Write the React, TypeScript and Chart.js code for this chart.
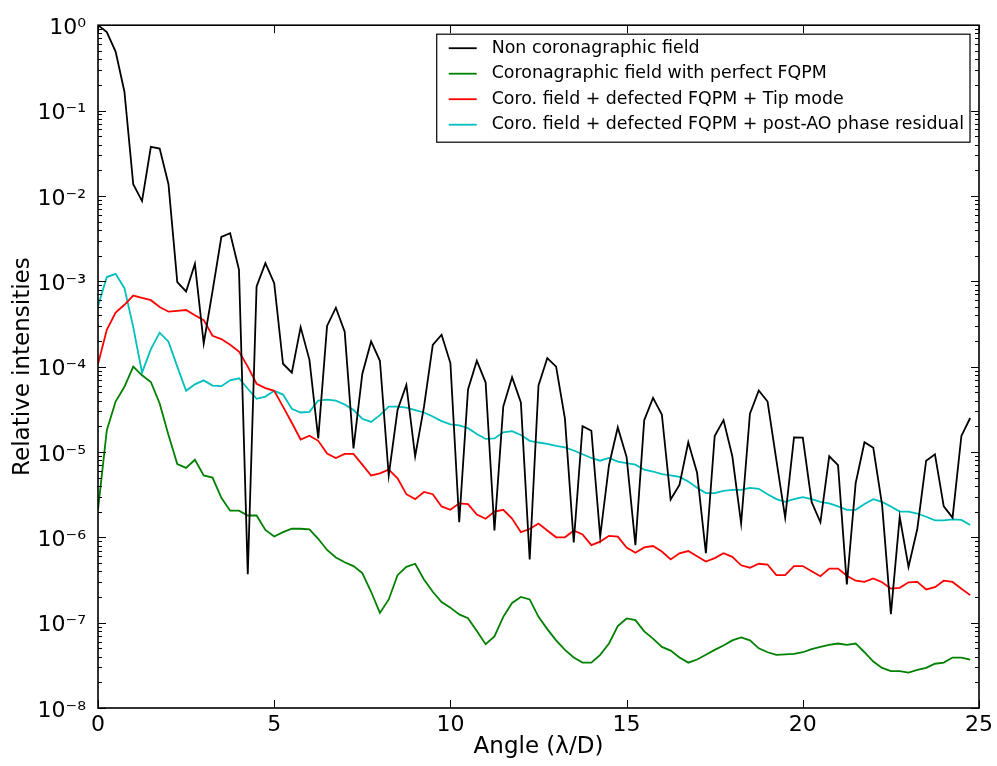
import React, { useEffect, useRef } from 'react';
import { Chart, registerables } from 'chart.js';

Chart.register(...registerables);

const FONT = 'DejaVu Sans';

// Angle (lambda/D) sampling grid
const angles = [
  0, 0.25, 0.5, 0.75, 1, 1.25, 1.5, 1.75, 2, 2.25, 2.5, 2.75, 3, 3.25, 3.5, 3.75, 4, 4.25, 4.5, 4.75,
  5, 5.25, 5.5, 5.75, 6, 6.25, 6.5, 6.75, 7, 7.25, 7.5, 7.75, 8, 8.25, 8.5, 8.75, 9, 9.25, 9.5, 9.75,
  10, 10.25, 10.5, 10.75, 11, 11.25, 11.5, 11.75, 12, 12.25, 12.5, 12.75, 13, 13.25, 13.5, 13.75, 14, 14.25, 14.5, 14.75,
  15, 15.25, 15.5, 15.75, 16, 16.25, 16.5, 16.75, 17, 17.25, 17.5, 17.75, 18, 18.25, 18.5, 18.75, 19, 19.25, 19.5, 19.75,
  20, 20.25, 20.5, 20.75, 21, 21.25, 21.5, 21.75, 22, 22.25, 22.5, 22.75, 23, 23.25, 23.5, 23.75, 24, 24.25, 24.5, 24.75,
];

const nonCoronagraphic = [
  1.0, 0.83, 0.49, 0.166, 0.0137, 0.0087, 0.0375, 0.0358, 0.0137, 9.8e-4,
  7.6e-4, 1.6e-3, 1.87e-4, 7.65e-4, 3.3e-3, 3.65e-3, 1.37e-3, 3.7e-7, 8.7e-4, 1.63e-3,
  9.5e-4, 1.08e-4, 8.5e-5, 2.9e-4, 1.2e-4, 1.44e-5, 3e-4, 4.9e-4, 2.57e-4, 1.1e-5,
  8.2e-5, 1.97e-4, 1.17e-4, 5.3e-6, 3.1e-5, 6.1e-5, 8.9e-6, 3.37e-5, 1.8e-4, 2.36e-4,
  1.1e-4, 1.5e-6, 5.4e-5, 1.17e-4, 6.5e-5, 1.2e-6, 3.4e-5, 7.5e-5, 3.8e-5, 5.5e-7,
  6e-5, 1.26e-4, 1e-4, 2.46e-5, 8.7e-7, 2e-5, 1.77e-5, 1.02e-6, 7e-6, 1.94e-5,
  8.7e-6, 8.1e-7, 2.36e-5, 4.3e-5, 2.75e-5, 2.77e-6, 4.1e-6, 1.3e-5, 5.7e-6, 6.5e-7,
  1.54e-5, 2.36e-5, 8.9e-6, 1.45e-6, 2.8e-5, 5.25e-5, 3.9e-5, 8e-6, 1.7e-6, 1.48e-5,
  1.47e-5, 2.6e-6, 1.5e-6, 8.9e-6, 7e-6, 2.8e-7, 4.3e-6, 1.3e-5, 1.12e-5, 2.4e-6,
  1.26e-7, 1.74e-6, 4.5e-7, 1.26e-6, 7.9e-6, 9.4e-6, 2.3e-6, 1.7e-6, 1.54e-5, 2.5e-5,
];

const perfectFqpm = [
  2.1e-6, 1.8e-5, 3.9e-5, 5.8e-5, 1e-4, 7.9e-5, 6.6e-5, 3.7e-5, 1.58e-5, 7.2e-6,
  6.5e-6, 8.1e-6, 5.3e-6, 5e-6, 2.9e-6, 2.05e-6, 2.05e-6, 1.8e-6, 1.8e-6, 1.22e-6,
  1.02e-6, 1.15e-6, 1.26e-6, 1.26e-6, 1.24e-6, 9.6e-7, 7.1e-7, 5.8e-7, 5.1e-7, 4.6e-7,
  3.8e-7, 2.3e-7, 1.3e-7, 1.87e-7, 3.6e-7, 4.5e-7, 4.9e-7, 3.2e-7, 2.3e-7, 1.74e-7,
  1.5e-7, 1.25e-7, 1.13e-7, 8e-8, 5.6e-8, 6.9e-8, 1.17e-7, 1.7e-7, 2e-7, 1.87e-7,
  1.17e-7, 8.4e-8, 6.2e-8, 4.8e-8, 3.9e-8, 3.4e-8, 3.4e-8, 4.2e-8, 5.7e-8, 9.1e-8,
  1.12e-7, 1.07e-7, 7.9e-8, 6.5e-8, 5.2e-8, 4.7e-8, 3.9e-8, 3.4e-8, 3.7e-8, 4.2e-8,
  4.8e-8, 5.4e-8, 6.2e-8, 6.7e-8, 6.2e-8, 5e-8, 4.5e-8, 4.2e-8, 4.25e-8, 4.3e-8,
  4.5e-8, 4.9e-8, 5.2e-8, 5.5e-8, 5.7e-8, 5.5e-8, 5.7e-8, 4.5e-8, 3.5e-8, 2.95e-8,
  2.7e-8, 2.7e-8, 2.6e-8, 2.8e-8, 2.95e-8, 3.3e-8, 3.4e-8, 3.9e-8, 3.9e-8, 3.7e-8,
];

const tipMode = [
  1.07e-4, 2.7e-4, 4.3e-4, 5.3e-4, 6.8e-4, 6.4e-4, 6e-4, 5e-4, 4.4e-4, 4.5e-4,
  4.6e-4, 4e-4, 3.5e-4, 2.3e-4, 2.1e-4, 1.8e-4, 1.5e-4, 1e-4, 6.3e-5, 5.6e-5,
  5.2e-5, 3.4e-5, 2.2e-5, 1.4e-5, 1.55e-5, 1.35e-5, 9.6e-6, 8.5e-6, 9.5e-6, 9.5e-6,
  7.1e-6, 5.3e-6, 5.6e-6, 6.2e-6, 4.9e-6, 3.2e-6, 2.8e-6, 3.4e-6, 3.2e-6, 2.3e-6,
  2.1e-6, 2.5e-6, 2.45e-6, 1.85e-6, 1.65e-6, 2e-6, 2.1e-6, 1.66e-6, 1.15e-6, 1.25e-6,
  1.45e-6, 1.2e-6, 1e-6, 1e-6, 1.2e-6, 1.08e-6, 8.1e-7, 8.9e-7, 1.04e-6, 1.02e-6,
  7.6e-7, 6.6e-7, 7.6e-7, 7.9e-7, 6.8e-7, 5.5e-7, 6.5e-7, 6.9e-7, 6e-7, 5.2e-7,
  5.7e-7, 6.5e-7, 5.9e-7, 4.7e-7, 4.4e-7, 4.9e-7, 4.8e-7, 3.6e-7, 3.6e-7, 4.6e-7,
  4.6e-7, 4e-7, 3.5e-7, 4.3e-7, 4.3e-7, 3.55e-7, 3.1e-7, 3e-7, 3.3e-7, 2.97e-7,
  2.5e-7, 2.56e-7, 2.97e-7, 3e-7, 2.45e-7, 2.6e-7, 3.1e-7, 3e-7, 2.5e-7, 2.1e-7,
];

const postAoResidual = [
  5.1e-4, 1.12e-3, 1.22e-3, 8.3e-4, 2.9e-4, 8.5e-5, 1.6e-4, 2.5e-4, 1.96e-4, 1e-4,
  5.2e-5, 6.2e-5, 6.9e-5, 6e-5, 5.9e-5, 6.9e-5, 7.3e-5, 5.5e-5, 4.2e-5, 4.45e-5,
  5.2e-5, 4.7e-5, 3.2e-5, 2.9e-5, 2.95e-5, 4e-5, 4.1e-5, 4e-5, 3.6e-5, 3.1e-5,
  2.45e-5, 2.25e-5, 2.7e-5, 3.4e-5, 3.4e-5, 3.3e-5, 3.1e-5, 2.9e-5, 2.6e-5, 2.3e-5,
  2.1e-5, 2.05e-5, 1.9e-5, 1.62e-5, 1.42e-5, 1.44e-5, 1.7e-5, 1.75e-5, 1.58e-5, 1.35e-5,
  1.29e-5, 1.24e-5, 1.18e-5, 1.13e-5, 1.04e-5, 9.4e-6, 8.5e-6, 7.9e-6, 8.5e-6, 7.7e-6,
  7.4e-6, 7.1e-6, 6.2e-6, 5.9e-6, 5.5e-6, 5.3e-6, 5.1e-6, 4.5e-6, 3.8e-6, 3.3e-6,
  3.3e-6, 3.5e-6, 3.6e-6, 3.6e-6, 3.8e-6, 3.7e-6, 3.2e-6, 2.8e-6, 2.6e-6, 2.8e-6,
  2.95e-6, 2.8e-6, 2.6e-6, 2.5e-6, 2.3e-6, 2.1e-6, 2.1e-6, 2.45e-6, 2.8e-6, 2.6e-6,
  2.3e-6, 2.0e-6, 2.0e-6, 1.9e-6, 1.74e-6, 1.58e-6, 1.58e-6, 1.62e-6, 1.6e-6, 1.39e-6,
];

const seriesLabels = [
  'Non coronagraphic field',
  'Coronagraphic field with perfect FQPM',
  'Coro. field + defected FQPM + Tip mode',
  'Coro. field + defected FQPM + post-AO phase residual',
];
const seriesValues = [nonCoronagraphic, perfectFqpm, tipMode, postAoResidual];
const seriesColors = ['#000000', '#008000', '#ff0000', '#00bfbf'];

const xTickValues = [0, 5, 10, 15, 20, 25];
const yTickValues = [1e-8, 1e-7, 1e-6, 1e-5, 1e-4, 1e-3, 1e-2, 1e-1, 1];
const yTickLabels = ['10⁻⁸', '10⁻⁷', '10⁻⁶', '10⁻⁵', '10⁻⁴', '10⁻³', '10⁻²', '10⁻¹', '10⁰'];
const minorMultipliers = [2, 3, 4, 5, 6, 7, 8, 9];

const xTitle = 'Angle (λ/D)';
const yTitle = 'Relative intensities';

const framePlugin = {
  id: 'frameTicks',
  afterDatasetsDraw(chart: any) {
    const { ctx, chartArea: a, scales } = chart;
    const xs = scales.x;
    const ys = scales.y;
    ctx.save();
    ctx.strokeStyle = '#000';
    ctx.lineWidth = 1;
    ctx.beginPath();
    for (const v of xTickValues) {
      const px = Math.round(xs.getPixelForValue(v)) + 0.5;
      ctx.moveTo(px, a.bottom);
      ctx.lineTo(px, a.bottom - 8);
      ctx.moveTo(px, a.top);
      ctx.lineTo(px, a.top + 8);
    }
    for (let i = 0; i < yTickValues.length; i++) {
      const base = yTickValues[i];
      const py = Math.round(ys.getPixelForValue(base)) + 0.5;
      ctx.moveTo(a.left, py);
      ctx.lineTo(a.left + 8, py);
      ctx.moveTo(a.right, py);
      ctx.lineTo(a.right - 8, py);
      if (i < yTickValues.length - 1) {
        for (const m of minorMultipliers) {
          const my = Math.round(ys.getPixelForValue(base * m)) + 0.5;
          ctx.moveTo(a.left, my);
          ctx.lineTo(a.left + 4, my);
          ctx.moveTo(a.right, my);
          ctx.lineTo(a.right - 4, my);
        }
      }
    }
    ctx.stroke();
    ctx.lineWidth = 1.6;
    ctx.strokeRect(a.left, a.top, a.right - a.left, a.bottom - a.top);
    ctx.restore();
  },
};

const legendPlugin = {
  id: 'boxLegend',
  afterDraw(chart: any) {
    const { ctx, chartArea: a } = chart;
    ctx.save();
    ctx.font = `17.4px "${FONT}"`;
    let maxW = 0;
    for (const t of seriesLabels) maxW = Math.max(maxW, ctx.measureText(t).width);
    const lineStart = 12;
    const lineLen = 28;
    const textStart = 55;
    const w = textStart + maxW + 6;
    const h = 108;
    const right = a.right - 9;
    const left = right - w;
    const top = a.top + 9;
    ctx.fillStyle = '#fff';
    ctx.fillRect(left, top, w, h);
    ctx.strokeStyle = '#000';
    ctx.lineWidth = 1.2;
    ctx.strokeRect(left, top, w, h);
    ctx.textBaseline = 'middle';
    ctx.textAlign = 'left';
    chart.data.datasets.forEach((ds: any, i: number) => {
      const cy = top + 14 + i * 25.5;
      ctx.strokeStyle = ds.borderColor;
      ctx.lineWidth = 1.8;
      ctx.beginPath();
      ctx.moveTo(left + lineStart, cy);
      ctx.lineTo(left + lineStart + lineLen, cy);
      ctx.stroke();
      ctx.fillStyle = '#000';
      ctx.fillText(ds.label, left + textStart, cy);
    });
    ctx.restore();
  },
};

export default function App() {
  const canvasRef = useRef<HTMLCanvasElement | null>(null);

  useEffect(() => {
    document.body.style.margin = '0';
    document.body.style.overflow = 'hidden';
    const canvas = canvasRef.current;
    if (!canvas) return;
    const datasets = seriesValues.map((vals, s) => ({
      label: seriesLabels[s],
      data: vals.map((v, i) => ({ x: angles[i], y: v })),
      borderColor: seriesColors[s],
      backgroundColor: seriesColors[s],
      borderWidth: 1.8,
      pointRadius: 0,
      tension: 0,
      fill: false,
    }));
    const chart = new Chart(canvas, {
      type: 'line',
      data: { datasets },
      options: {
        responsive: false,
        animation: false,
        devicePixelRatio: 1,
        events: [],
        layout: { padding: { left: 0, right: 18, top: 22, bottom: 0 } },
        plugins: {
          legend: { display: false },
          tooltip: { enabled: false },
        },
        scales: {
          x: {
            type: 'linear',
            min: 0,
            max: 25,
            grid: { display: false, drawTicks: false },
            border: { display: false },
            afterBuildTicks: (s: any) => {
              s.ticks = xTickValues.map((v) => ({ value: v }));
            },
            afterFit: (s: any) => {
              s.height = 58;
            },
            ticks: {
              color: '#000',
              padding: 4,
              maxRotation: 0,
              font: { family: FONT, size: 22 },
              callback: (v: any) => String(v),
            },
            title: {
              display: true,
              text: xTitle,
              color: '#000',
              font: { family: FONT, size: 23 },
              padding: { top: 0, bottom: 5 },
            },
          },
          y: {
            type: 'logarithmic',
            min: 1e-8,
            max: 1,
            grid: { display: false, drawTicks: false },
            border: { display: false },
            afterBuildTicks: (s: any) => {
              s.ticks = yTickValues.map((v) => ({ value: v }));
            },
            afterFit: (s: any) => {
              s.width = 98;
            },
            ticks: {
              color: '#000',
              padding: 12,
              labelOffset: 3,
              font: { family: FONT, size: 22 },
              callback: (v: any) => {
                const idx = yTickValues.findIndex((t) => Math.abs(Math.log10(t) - Math.log10(v)) < 1e-6);
                return idx >= 0 ? yTickLabels[idx] : '';
              },
            },
            title: {
              display: true,
              text: yTitle,
              color: '#000',
              font: { family: FONT, size: 23 },
              padding: { top: 9, bottom: 0 },
            },
          },
        },
      },
      plugins: [framePlugin, legendPlugin],
    } as any);
    return () => chart.destroy();
  }, []);

  return (
    <div style={{ width: 997, height: 766, background: '#fff' }}>
      <canvas ref={canvasRef} width={997} height={766} style={{ display: 'block' }} />
    </div>
  );
}
